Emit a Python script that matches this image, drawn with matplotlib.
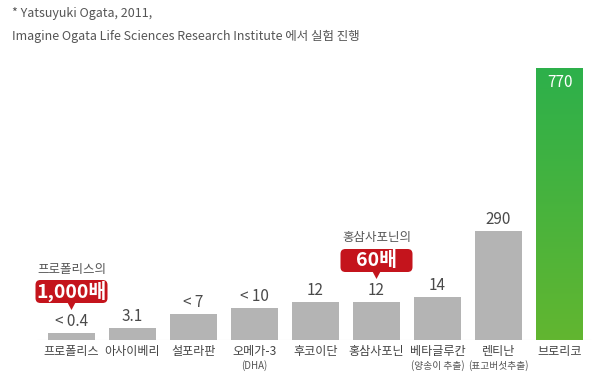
import matplotlib
matplotlib.use("Agg")
import matplotlib.pyplot as plt
import numpy as np
from matplotlib.patches import FancyBboxPatch, Polygon
from matplotlib.colors import LinearSegmentedColormap

plt.rcParams['font.family'] = ['Noto Sans CJK KR', 'DejaVu Sans']

# ---- data ----
categories = ["프로폴리스", "아사이베리", "설포라판", "오메가-3", "후코이단",
              "홍삼사포닌", "베타글루칸", "렌티난", "브로리코"]
sublabels = ["", "", "", "(DHA)", "", "", "(양송이 추출)", "(표고버섯추출)", ""]
value_labels = ["< 0.4", "3.1", "< 7", "< 10", "12", "12", "14", "290", "770"]
# displayed bar heights (the original chart is not drawn to scale)
bar_heights = [7, 12, 26, 32, 38, 38, 43, 109, 272]
title_lines = ["* Yatsuyuki Ogata, 2011,",
               "Imagine Ogata Life Sciences Research Institute 에서 실험 진행"]
callouts = [(0, "프로폴리스의", "1,000배"), (5, "홍삼사포닌의", "60배")]

W, H = 600, 378
fig = plt.figure(figsize=(W / 100, H / 100), dpi=100)
base_px = 340
ax = fig.add_axes([0, (H - base_px) / H, 1, base_px / H])
spacing = 61.0
first = 71.5
ax.set_xlim(-first / spacing, (W - first) / spacing)
ax.set_ylim(0, base_px)
ax.axis('off')

x = np.arange(len(categories))
colors = ['#b4b4b4'] * (len(categories) - 1) + ['#4cb43c']
bars = ax.bar(x, bar_heights, width=0.77, color=colors, zorder=2)

# green gradient on the last bar
gb = bars[-1]
grad = np.linspace(0, 1, 256).reshape(-1, 1)
cmap = LinearSegmentedColormap.from_list('g', ['#62b630', '#2db04b'])
im = ax.imshow(grad, cmap=cmap, aspect='auto', origin='lower',
               extent=[gb.get_x(), gb.get_x() + gb.get_width(), 0, gb.get_height()],
               zorder=3)
im.set_clip_path(gb)

# baseline
ax.plot([-0.55, 8.5], [0.5, 0.5], color='#dcdcdc', lw=0.8, zorder=1)

# value labels
for i, (h, lab) in enumerate(zip(bar_heights, value_labels)):
    if i == len(categories) - 1:
        ax.text(i, h - 6, lab, ha='center', va='top', fontsize=11,
                color='white', zorder=4)
    else:
        ax.text(i, h + 3, lab, ha='center', va='bottom', fontsize=11,
                color='#4a4a4a', zorder=4)

# category labels
for i, (c, s) in enumerate(zip(categories, sublabels)):
    ax.text(i, -12, c, ha='center', va='center', fontsize=8.7,
            color='#444444', clip_on=False)
    if s:
        ax.text(i, -26, s, ha='center', va='center', fontsize=7,
                color='#555555', clip_on=False)

# callouts
for idx, head, big in callouts:
    h = bar_heights[idx]
    tip = h + 23
    box_bottom = tip + 7
    box_h = 23
    box_w = 72 / spacing
    ax.add_patch(FancyBboxPatch((idx - box_w / 2, box_bottom), box_w, box_h,
                                boxstyle="round,pad=0,rounding_size=0.08",
                                mutation_aspect=spacing,
                                fc='#c4141c', ec='none', zorder=5))
    ax.add_patch(Polygon([[idx - 0.07, box_bottom + 1], [idx + 0.07, box_bottom + 1],
                          [idx, tip]], closed=True, fc='#c4141c', ec='none', zorder=5))
    ax.text(idx, box_bottom + box_h / 2, big, ha='center', va='center',
            fontsize=14, fontweight='bold', color='white', zorder=6)
    ax.text(idx, box_bottom + box_h + 11, head, ha='center', va='center',
            fontsize=9, color='#555555', zorder=6)

# title
fig.text(12 / W, 1 - 14 / H, title_lines[0], ha='left', va='center',
         fontsize=9, color='#555555')
fig.text(12 / W, 1 - 36 / H, title_lines[1], ha='left', va='center',
         fontsize=9, color='#555555')

fig.savefig('out.png', dpi=100)
